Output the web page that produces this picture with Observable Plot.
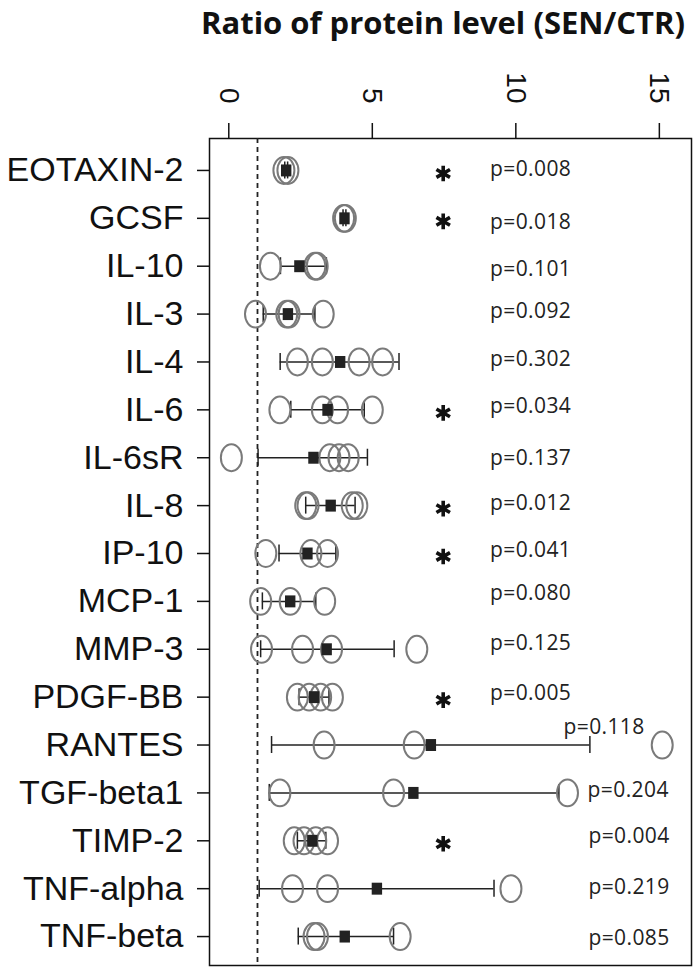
<!DOCTYPE html>
<html>
<head>
<meta charset="utf-8">
<script src="https://cdn.jsdelivr.net/npm/d3@7"></script>
<script src="https://cdn.jsdelivr.net/npm/@observablehq/plot@0.6"></script>
<style>
  body { margin: 0; background: #fff; }
  #title { position: relative; height: 50px; width: 699px; }
  #title span { position: absolute; left: 201px; top: 7px; line-height: 31px; font-family: "Open Sans", sans-serif; font-weight: 700; font-size: 31px; white-space: nowrap; color: #111; }
  #chart svg { display: block; }
</style>
</head>
<body>
<div id="title"><span>Ratio of protein level (SEN/CTR)</span></div>
<div id="chart"></div>
<script>
// ---- data ----
const proteins = ["EOTAXIN-2","GCSF","IL-10","IL-3","IL-4","IL-6","IL-6sR","IL-8","IP-10","MCP-1","MMP-3","PDGF-BB","RANTES","TGF-beta1","TIMP-2","TNF-alpha","TNF-beta"];
const means   = [2.0, 4.03, 2.46, 2.06, 3.88, 3.44, 2.95, 3.55, 2.74, 2.14, 3.41, 2.97, 7.04, 6.43, 2.91, 5.16, 4.04];
const errLow  = [1.95, 3.98, 1.8, 1.2, 1.79, 2.16, 1.02, 2.68, 1.75, 1.17, 1.11, 2.45, 1.49, 1.41, 2.39, 1.06, 2.42];
const errHigh = [2.05, 4.08, 3.4, 3.0, 5.93, 4.72, 4.83, 4.4, 3.73, 3.03, 5.76, 3.49, 12.58, 11.5, 3.38, 9.24, 5.74];
const samples = [
  [1.92, 2.06],
  [4.0, 4.06],
  [1.45, 3.0, 3.08],
  [0.93, 2.02, 2.1, 3.29],
  [2.39, 3.26, 4.54, 5.36],
  [1.78, 3.26, 3.79, 5.0],
  [0.09, 3.52, 3.84, 4.16],
  [2.68, 2.76, 4.3, 4.46],
  [1.29, 2.86, 3.44],
  [1.11, 2.14, 3.34],
  [1.14, 2.57, 3.58, 6.55],
  [2.39, 2.8, 3.2, 3.61],
  [3.32, 6.46, 15.1],
  [1.78, 5.74, 11.8],
  [2.28, 2.62, 3.03, 3.44],
  [2.22, 3.44, 9.83],
  [2.97, 3.09, 5.97]
];
const pValues = ["0.008","0.018","0.101","0.092","0.302","0.034","0.137","0.012","0.041","0.080","0.125","0.005","0.118","0.204","0.004","0.219","0.085"];
const significant = [true,true,false,false,false,true,false,true,true,false,false,true,false,false,true,false,false];
const xTicks = [0, 5, 10, 15];

// ---- layout tweaks (label placement, not data) ----
const starX = 7.47;
const pLabelX = {"RANTES": 11.66, "TGF-beta1": 12.5, "TIMP-2": 12.53, "TNF-alpha": 12.53, "TNF-beta": 12.53};
const pLabelDefaultX = 9.1;
const pLabelDy = {"EOTAXIN-2":-1,"GCSF":4,"IL-10":3,"IL-3":-3,"IL-4":-3,"IL-6":-4,"IL-6sR":1,"IL-8":-2,"IP-10":-3,"MCP-1":-8,"MMP-3":-6,"PDGF-BB":-4,"RANTES":-18,"TGF-beta1":-3,"TIMP-2":-5,"TNF-alpha":-1,"TNF-beta":2};

const rows = proteins.map((p, i) => ({protein: p, mean: means[i], lo: errLow[i], hi: errHigh[i], p: pValues[i], sig: significant[i]}));
const pts = proteins.flatMap((p, i) => samples[i].map(v => ({protein: p, value: v})));

// custom symbols
const K = 0.5523;
const ellipse = {draw(ctx, size) {
  const rx = Math.sqrt(size / Math.PI), ry = rx * 1.28;
  ctx.moveTo(rx, 0);
  ctx.bezierCurveTo(rx, K*ry, K*rx, ry, 0, ry);
  ctx.bezierCurveTo(-K*rx, ry, -rx, K*ry, -rx, 0);
  ctx.bezierCurveTo(-rx, -K*ry, -K*rx, -ry, 0, -ry);
  ctx.bezierCurveTo(K*rx, -ry, rx, -K*ry, rx, 0);
  ctx.closePath();
}};
const rectSym = {draw(ctx, size) {
  const w = Math.sqrt(size / Math.PI), h = w * 1.15;
  ctx.moveTo(-w, -h); ctx.lineTo(w, -h); ctx.lineTo(w, h); ctx.lineTo(-w, h); ctx.closePath();
}};

const capInset = (47.9 - 17) / 2;

const pLabelMarks = rows.map(r => Plot.text([r], {
  x: d => pLabelX[d.protein] ?? pLabelDefaultX,
  y: "protein",
  text: d => "p=" + d.p,
  dy: pLabelDy[r.protein],
  textAnchor: "start",
  fontSize: 21,
  fontFamily: "'Open Sans', sans-serif",
  fill: "#222"
}));

const chart = Plot.plot({
  width: 699,
  height: 922,
  marginTop: 88,
  marginLeft: 209,
  marginRight: 8,
  marginBottom: 7,
  style: {fontFamily: "'Liberation Sans', Arial, sans-serif", background: "#fff", color: "#111"},
  x: {domain: [-0.672, 16.12]},
  y: {type: "band", domain: proteins, padding: 0, round: false, insetTop: 8, insetBottom: 5, label: null},
  marks: [
    Plot.frame({stroke: "#111", strokeWidth: 1.5}),
    Plot.axisX(xTicks, {anchor: "top", tickRotate: 90, tickSize: 16, tickPadding: 19, fontSize: 28, label: null, strokeWidth: 1.5}),
    Plot.axisY({tickSize: 12, tickPadding: 14, fontSize: 34, label: null, strokeWidth: 1.5}),
    Plot.ruleX([1], {stroke: "#222", strokeWidth: 1.8, strokeDasharray: "5,4"}),
    Plot.ruleY(rows, {y: "protein", x1: "lo", x2: "hi", stroke: "#222", strokeWidth: 1.5}),
    Plot.tickX(rows, {x: "lo", y: "protein", stroke: "#222", strokeWidth: 1.5, insetTop: capInset, insetBottom: capInset}),
    Plot.tickX(rows, {x: "hi", y: "protein", stroke: "#222", strokeWidth: 1.5, insetTop: capInset, insetBottom: capInset}),
    Plot.dot(pts, {x: "value", y: "protein", symbol: ellipse, r: 10.5, stroke: "#7a7a7a", strokeWidth: 2, fill: "none"}),
    Plot.dot(rows, {x: "mean", y: "protein", symbol: rectSym, r: 5.2, fill: "#222", stroke: "none"}),
    Plot.dot(rows.filter(d => d.sig), {x: () => starX, y: "protein", symbol: "asterisk", r: 7.4, stroke: "#111", strokeWidth: 3.6, dy: 3}),
    ...pLabelMarks
  ]
});

// slight letter spacing on the p-value labels, as in the reference
d3.select(chart).selectAll("g[aria-label='text'] text").attr("letter-spacing", "0.4");
document.getElementById("chart").appendChild(chart);
</script>
</body>
</html>
